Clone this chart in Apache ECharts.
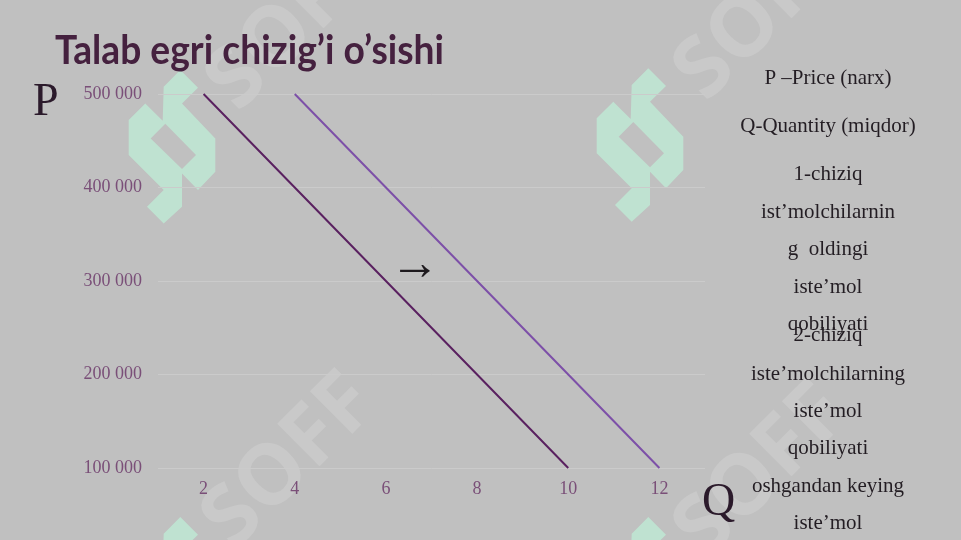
<!DOCTYPE html>
<html>
<head>
<meta charset="utf-8">
<script src="https://cdn.jsdelivr.net/npm/echarts@6/dist/echarts.min.js"></script>
<style>
html,body{margin:0;padding:0;background:#c0c0c0;}
#chart{width:961px;height:540px;}
</style>
</head>
<body>
<div id="chart"></div>
<script>
// ---- data ----
const titleText = 'Talab egri chizig\u2019i o\u2019sishi';
const quantities = ['2', '4', '6', '8', '10', '12'];
const line1Values = [500000, 400000, 300000, 200000, 100000, null];
const line2Values = [null, 500000, 400000, 300000, 200000, 100000];
const priceTicks = [100000, 200000, 300000, 400000, 500000];
const axisLetterP = 'P';
const axisLetterQ = 'Q';
const shiftArrow = '\u2192';
const notes = [
  'P \u2013Price (narx)',
  'Q-Quantity (miqdor)',
  '1-chiziq',
  'ist\u2019molchilarnin',
  'g  oldingi',
  'iste\u2019mol',
  'qobiliyati',
  '2-chiziq',
  'iste\u2019molchilarning',
  'iste\u2019mol',
  'qobiliyati',
  'oshgandan keying',
  'iste\u2019mol'
];
const watermarkWord = 'SOFF';

// ---- layout / style ----
const noteY = [78, 126, 174, 212, 249, 287, 324, 335, 374, 411, 448, 486, 523];
const logoShape = [
  [0,0],[17.7,17.7],[1.7,33.4],[35,68.4],[35,101.7],[17.7,120],[1.7,103.4],
  [1.7,136.7],[-16.6,153.4],[-33.3,136.7],[-16.6,120],[-51.6,85],[-51.6,50],
  [-35,33.4],[-17.6,50.7],[-16.6,16.7]
];
const holeShape = [[-15,53.7],[15.7,85],[1.7,99],[-29.6,68.4]];
const logoOrigins = [[180.3,70],[648.3,68.3],[180.3,517],[648.3,517]];
const wmCenters = [[294,24],[762,14],[290,462],[762,472]];

const graphics = [];
wmCenters.forEach(c => {
  graphics.push({
    type: 'text', x: c[0], y: c[1], rotation: Math.PI / 4, z: -10,
    style: { text: watermarkWord, fill: '#c9c9c9', font: 'bold 84px "Open Sans", sans-serif',
      textAlign: 'center', textVerticalAlign: 'middle' }
  });
});
logoOrigins.forEach(o => {
  graphics.push({
    type: 'polygon', z: -9,
    shape: { points: logoShape.map(p => [o[0] + p[0], o[1] + p[1]]) },
    style: { fill: '#bfe2d1' }
  });
  graphics.push({
    type: 'polygon', z: -8,
    shape: { points: holeShape.map(p => [o[0] + p[0], o[1] + p[1]]) },
    style: { fill: '#c0c0c0' }
  });
});
graphics.push({
  type: 'text', x: 55, y: 71, z: 10, scaleX: 0.93,
  style: { text: titleText, fill: '#45213f', font: 'bold 40px Lato, sans-serif',
    textAlign: 'left', textVerticalAlign: 'bottom' }
});
graphics.push({
  type: 'text', x: 33, y: 103, z: 10,
  style: { text: axisLetterP, fill: '#2b1a2b', font: '46px "Liberation Serif", serif',
    textAlign: 'left', textVerticalAlign: 'middle' }
});
graphics.push({
  type: 'text', x: 702, y: 503, z: 10,
  style: { text: axisLetterQ, fill: '#2b1a2b', font: '46px "Liberation Serif", serif',
    textAlign: 'left', textVerticalAlign: 'middle' }
});
graphics.push({
  type: 'text', x: 415, y: 266, z: 10,
  style: { text: shiftArrow, fill: '#1e1a1e', font: '50px "Liberation Serif", serif',
    textAlign: 'center', textVerticalAlign: 'middle' }
});
notes.forEach((t, i) => {
  graphics.push({
    type: 'text', x: 828, y: noteY[i], z: 10,
    style: { text: t, fill: '#231d23', font: '21px "Liberation Serif", serif',
      textAlign: 'center', textVerticalAlign: 'middle' }
  });
});

const fmt = v => String(v).replace(/\B(?=(\d{3})+(?!\d))/g, ' ');

const chart = echarts.init(document.getElementById('chart'), null, { renderer: 'canvas' });
chart.setOption({
  backgroundColor: '#c0c0c0',
  animation: false,
  grid: { left: 158, right: 256, top: 94, bottom: 72, containLabel: false },
  xAxis: {
    type: 'category',
    data: quantities,
    boundaryGap: true,
    axisLine: { show: false },
    axisTick: { show: false },
    axisLabel: { color: '#7a4f78', fontFamily: '"Liberation Serif", serif', fontSize: 18, margin: 12 },
    splitLine: { show: false }
  },
  yAxis: {
    type: 'value',
    min: priceTicks[0],
    max: priceTicks[priceTicks.length - 1],
    interval: 100000,
    axisLine: { show: false },
    axisTick: { show: false },
    axisLabel: { color: '#7a4f78', fontFamily: '"Liberation Serif", serif', fontSize: 18, margin: 16,
      formatter: fmt },
    splitLine: { lineStyle: { color: '#cbcbcb', width: 1 } }
  },
  series: [
    { type: 'line', data: line1Values, symbol: 'none', connectNulls: false,
      lineStyle: { color: '#5a2160', width: 2 }, z: 5 },
    { type: 'line', data: line2Values, symbol: 'none', connectNulls: false,
      lineStyle: { color: '#7d50a8', width: 2 }, z: 5 }
  ],
  graphic: graphics
});
</script>
</body>
</html>
